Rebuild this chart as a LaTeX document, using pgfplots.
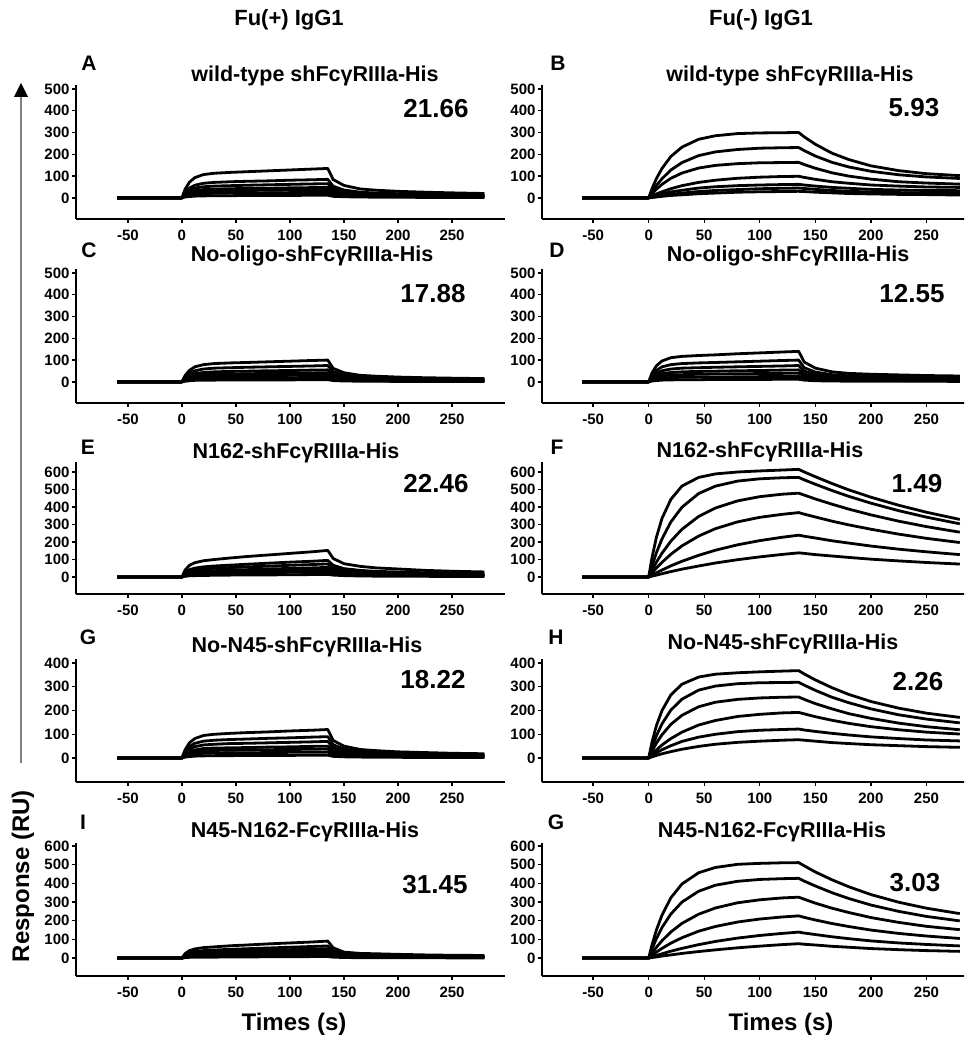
\documentclass[border=0pt]{standalone}
\usepackage{pgfplots}
\pgfplotsset{compat=1.18}
\usepackage{pgfplotstable}
\usepackage{fontspec}
\setmainfont{Liberation Sans}
\newcommand{\fs}[1]{\fontsize{#1}{#1}\selectfont\bfseries}

% Fu(+) IgG1 panels
\pgfplotstableread{
t c1 c2 c3 c4 c5 c6 c7
-60 0 0 0 0 0 0 0
0 0 0 0 0 0 0 0
3 40 25 19 14 11 7 4
7 72 45 34 25 20 13 6
12 93 58 45 33 26 17 8
20 107 67 51 38 30 20 9
30 113 71 54 40 32 21 10
45 117 74 56 42 33 22 10
60 120 76 58 43 34 22 11
80 124 78 60 44 35 23 11
100 128 81 62 46 36 24 11
120 132 83 64 47 37 24 12
135 135 85 65 48 38 25 12
140 84 53 40 30 24 16 7
150 57 36 27 20 16 11 5
165 41 26 20 14 11 8 4
180 35 22 17 12 10 7 3
200 30 19 14 11 8 6 3
225 26 16 12 9 7 5 2
250 23 14 11 8 6 4 2
280 20 13 10 7 6 4 2
}\dataA
\pgfplotstableread{
t c1 c2 c3 c4 c5 c6 c7
-60 0 0 0 0 0 0 0
0 0 0 0 0 0 0 0
3 29 22 16 12 9 6 3
7 53 40 29 22 17 11 5
12 69 51 38 29 22 14 7
20 79 59 43 33 25 16 8
30 84 63 46 35 27 17 8
45 87 65 48 36 28 17 9
60 89 67 49 37 28 18 9
80 92 69 51 39 29 18 9
100 95 71 52 40 30 19 9
120 98 73 54 41 31 20 10
135 100 75 55 42 32 20 10
140 62 47 34 26 20 12 6
150 42 32 23 18 13 8 4
165 30 23 17 13 10 6 3
180 26 20 14 11 8 5 3
200 22 17 12 9 7 4 2
225 19 14 10 8 6 4 2
250 17 13 9 7 5 3 2
280 15 11 8 6 5 3 2
}\dataC
\pgfplotstableread{
t c1 c2 c3 c4 c5 c6 c7
-60 0 0 0 0 0 0 0
0 0 0 0 0 0 0 0
3 40 25 20 14 11 8 4
7 67 42 33 24 18 13 7
12 82 51 41 30 23 16 8
20 93 58 46 34 26 18 9
30 100 63 50 36 28 20 10
45 109 68 54 40 30 22 11
60 117 73 58 42 32 23 12
80 126 79 62 46 35 25 12
100 135 85 67 49 37 27 13
120 144 90 71 52 40 29 14
135 152 95 75 55 42 30 15
140 106 67 53 39 29 21 11
150 76 48 38 28 21 15 8
165 61 38 30 22 17 12 6
180 52 32 26 19 14 10 5
200 46 29 23 17 13 9 5
225 38 24 19 14 11 8 4
250 33 21 17 12 9 7 3
280 29 18 14 10 8 6 3
}\dataE
\pgfplotstableread{
t c1 c2 c3 c4 c5 c6 c7
-60 0 0 0 0 0 0 0
0 0 0 0 0 0 0 0
3 35 26 21 15 11 7 4
7 64 48 37 27 20 13 6
12 82 62 48 34 26 17 8
20 95 71 55 40 30 20 9
30 100 75 58 42 32 21 10
45 104 78 61 43 33 22 10
60 107 80 62 44 34 22 11
80 110 83 64 46 35 23 11
100 114 85 66 47 36 24 11
120 117 88 68 49 37 24 12
135 120 90 70 50 38 25 12
140 74 56 43 31 24 16 7
150 50 38 29 21 16 11 5
165 36 27 21 15 11 8 4
180 31 23 18 13 10 7 3
200 26 20 15 11 8 6 3
225 23 17 13 10 7 5 2
250 20 15 12 9 6 4 2
280 18 14 11 8 6 4 2
}\dataG
\pgfplotstableread{
t c1 c2 c3 c4 c5 c6 c7
-60 0 0 0 0 0 0 0
0 0 0 0 0 0 0 0
3 24 17 13 10 7 5 2
7 40 29 22 17 12 8 4
12 49 35 27 21 15 10 4
20 56 40 31 23 17 11 5
30 60 43 33 25 18 12 5
45 66 47 36 27 20 13 6
60 70 50 39 29 22 14 6
80 76 54 42 32 23 15 7
100 81 58 45 34 25 16 7
120 86 62 48 36 27 17 8
135 91 65 50 38 28 18 8
140 55 39 30 23 17 11 5
150 32 23 18 13 10 6 3
165 25 18 14 11 8 5 2
180 23 16 13 10 7 5 2
200 20 14 11 8 6 4 2
225 17 12 10 7 5 3 2
250 15 11 9 6 5 3 1
280 14 10 8 6 4 3 1
}\dataI

% Fu(-) IgG1 panels
\pgfplotstableread{
t c1 c2 c3 c4 c5 c6 c7
-60 0 0 0 0 0 0 0
0 0 0 0 0 0 0 0
3 42 26 19 8 5 3 2
7 89 57 40 18 11 6 4
12 135 88 62 28 18 10 7
20 190 128 90 42 27 16 11
30 233 162 114 56 35 22 14
45 269 194 137 71 45 29 19
60 285 211 149 81 51 34 22
80 295 222 157 90 56 38 26
100 298 228 161 95 59 42 28
120 299 230 162 98 61 44 29
135 300 231 163 99 62 45 30
140 280 217 153 94 59 43 29
150 246 192 136 85 54 39 26
165 205 163 115 74 48 34 23
180 176 142 100 67 44 30 20
200 147 122 86 59 39 27 18
225 125 106 74 54 36 24 16
250 111 96 68 50 34 23 15
280 102 89 63 48 33 22 13
}\dataB
\pgfplotstableread{
t c1 c2 c3 c4 c5 c6 c7
-60 0 0 0 0 0 0 0
0 0 0 0 0 0 0 0
3 41 29 22 16 12 7 4
7 74 53 40 29 21 13 6
12 96 69 51 38 27 17 8
20 111 79 59 43 32 20 9
30 117 84 63 46 33 21 10
45 121 87 65 48 35 22 10
60 124 89 67 49 36 22 11
80 129 92 69 51 37 23 11
100 133 95 71 52 38 24 11
120 137 98 73 54 39 24 12
135 140 100 75 55 40 25 12
140 91 65 49 36 26 16 8
150 63 45 34 25 18 11 5
165 46 33 25 18 13 8 4
180 39 28 21 15 11 7 3
200 35 25 19 14 10 6 3
225 32 23 17 13 9 6 3
250 29 21 16 12 8 5 3
280 27 19 14 10 8 5 2
}\dataD
\pgfplotstableread{
t c1 c2 c3 c4 c5 c6
-60 0 0 0 0 0 0
0 0 0 0 0 0 0
3 111 65 38 23 11 5
7 228 139 85 52 24 11
12 335 218 136 84 40 19
20 444 315 205 130 64 31
30 520 399 273 178 90 45
45 569 477 346 234 124 63
60 589 519 394 276 153 80
80 600 548 435 315 184 99
100 606 561 459 341 208 115
120 611 567 473 358 227 129
135 615 569 479 368 239 138
140 600 555 468 359 233 135
150 573 530 446 343 223 128
165 534 494 416 319 207 120
180 498 461 388 298 194 112
200 456 422 355 273 177 102
225 410 379 319 245 159 92
250 370 342 288 221 144 83
280 329 304 256 197 128 74
}\dataF
\pgfplotstableread{
t c1 c2 c3 c4 c5 c6
-60 0 0 0 0 0 0
0 0 0 0 0 0 0
3 67 44 29 15 10 5
7 137 94 63 34 22 11
12 200 144 98 55 35 18
20 266 202 142 82 52 27
30 311 248 180 109 70 37
45 341 286 216 139 88 49
60 353 303 235 158 100 58
80 359 313 247 175 111 66
100 363 317 253 184 117 71
120 366 318 256 190 120 75
135 368 319 257 192 122 77
140 354 307 247 186 118 75
150 329 285 229 174 112 71
165 296 256 207 159 104 65
180 268 233 187 146 97 61
200 238 207 167 132 89 56
225 210 182 147 119 82 52
250 189 164 132 109 76 48
280 171 148 119 101 72 45
}\dataH
\pgfplotstableread{
t c1 c2 c3 c4 c5 c6
-60 0 0 0 0 0 0
0 0 0 0 0 0 0
3 71 49 26 14 6 3
7 151 105 58 32 14 6
12 230 164 93 52 23 11
20 323 236 140 80 37 17
30 397 300 186 109 52 25
45 457 358 235 144 72 35
60 485 390 268 169 89 44
80 502 411 296 193 107 55
100 507 421 312 209 121 64
120 510 425 322 220 132 72
135 511 427 326 226 139 77
140 494 412 315 218 134 74
150 461 386 294 204 126 70
165 419 350 267 185 114 63
180 382 319 244 169 104 58
200 340 284 217 150 92 51
225 299 250 191 132 81 45
250 267 223 170 118 73 40
280 238 199 152 105 65 36
}\dataJ

\pgfplotsset{
  panel/.style={scale only axis, anchor=south west,
    axis x line=bottom, axis y line=left,
    axis line style={-, line width=1.7pt},
    tick style={black, line width=1.4pt}, major tick length=4pt, tick align=outside,
    xtick={-50,0,50,100,150,200,250}, xticklabels={-50,0,50,100,150,200,250},
    ticklabel style={font=\fs{15}},
    xticklabel style={yshift=-3pt},
    yticklabel style={xshift=1pt},
    cycle list={{black}},
    every axis plot/.append style={line width=2.8pt, line join=round, no markers}},
  pleft/.style={panel, width=429pt, xmin=-98, xmax=299},
  pright/.style={panel, width=440pt, xmin=-96, xmax=300},
  r500/.style={height=134pt, ymin=-97, ymax=518, ytick={0,100,200,300,400,500},
    yticklabels={0,100,200,300,400,500}},
  r600/.style={height=132pt, ymin=-97, ymax=657, ytick={0,100,200,300,400,500,600},
    yticklabels={0,100,200,300,400,500,600}},
  r400/.style={height=123pt, ymin=-101, ymax=417, ytick={0,100,200,300,400},
    yticklabels={0,100,200,300,400}},
  r600b/.style={height=133pt, ymin=-96, ymax=616, ytick={0,100,200,300,400,500,600},
    yticklabels={0,100,200,300,400,500,600}},
}

\begin{document}
\begin{tikzpicture}[x=1pt,y=1pt]
\useasboundingbox (0,0) rectangle (964,-1040);
\clip (0,0) rectangle (964,-1040);

% left column
\begin{axis}[pleft, r500, at={(76pt,-219pt)}]
\pgfplotsinvokeforeach{1,...,7}{\addplot table[x=t,y=c#1]{\dataA};}
\end{axis}
\begin{axis}[pleft, r500, at={(76pt,-403pt)}]
\pgfplotsinvokeforeach{1,...,7}{\addplot table[x=t,y=c#1]{\dataC};}
\end{axis}
\begin{axis}[pleft, r600, at={(76pt,-594pt)}]
\pgfplotsinvokeforeach{1,...,7}{\addplot table[x=t,y=c#1]{\dataE};}
\end{axis}
\begin{axis}[pleft, r400, at={(76pt,-782pt)}]
\pgfplotsinvokeforeach{1,...,7}{\addplot table[x=t,y=c#1]{\dataG};}
\end{axis}
\begin{axis}[pleft, r600b, at={(76pt,-976pt)}]
\pgfplotsinvokeforeach{1,...,7}{\addplot table[x=t,y=c#1]{\dataI};}
\end{axis}

% right column
\begin{axis}[pright, r500, at={(542pt,-219pt)}]
\pgfplotsinvokeforeach{1,...,7}{\addplot table[x=t,y=c#1]{\dataB};}
\end{axis}
\begin{axis}[pright, r500, at={(542pt,-403pt)}]
\pgfplotsinvokeforeach{1,...,7}{\addplot table[x=t,y=c#1]{\dataD};}
\end{axis}
\begin{axis}[pright, r600, at={(542pt,-594pt)}]
\pgfplotsinvokeforeach{1,...,6}{\addplot table[x=t,y=c#1]{\dataF};}
\end{axis}
\begin{axis}[pright, r400, at={(542pt,-782pt)}]
\pgfplotsinvokeforeach{1,...,6}{\addplot table[x=t,y=c#1]{\dataH};}
\end{axis}
\begin{axis}[pright, r600b, at={(542pt,-976pt)}]
\pgfplotsinvokeforeach{1,...,6}{\addplot table[x=t,y=c#1]{\dataJ};}
\end{axis}

% column headers
\node[font=\fs{22}] at (289,-20) {Fu(+) IgG1};
\node[font=\fs{22}] at (761,-20) {Fu(-) IgG1};

% panel letters
\begin{scope}[every node/.style={font=\fs{21}}]
\node at (89,-63) {A};  \node at (558,-63) {B};
\node at (89,-250) {C}; \node at (557,-250) {D};
\node at (88,-447) {E}; \node at (557,-447) {F};
\node at (88,-637) {G}; \node at (556,-637) {H};
\node at (83,-822) {I}; \node at (556,-822) {G};
\end{scope}

% panel titles
\begin{scope}[every node/.style={font=\fs{21.5}, anchor=base}]
\node at (315,-82) {wild-type shFcγRIIIa-His};
\node at (790,-82) {wild-type shFcγRIIIa-His};
\node at (312,-262) {No-oligo-shFcγRIIIa-His};
\node at (788,-262) {No-oligo-shFcγRIIIa-His};
\node at (296,-458) {N162-shFcγRIIIa-His};
\node at (760,-457) {N162-shFcγRIIIa-His};
\node at (307,-652) {No-N45-shFcγRIIIa-His};
\node at (783,-649) {No-N45-shFcγRIIIa-His};
\node at (305,-837) {N45-N162-FcγRIIIa-His};
\node at (772,-837) {N45-N162-FcγRIIIa-His};
\end{scope}

% values
\begin{scope}[every node/.style={font=\fs{26}}]
\node at (436,-109) {21.66}; \node at (914,-108) {5.93};
\node at (433,-294) {17.88}; \node at (912,-294) {12.55};
\node at (436,-484) {22.46}; \node at (917,-484) {1.49};
\node at (433,-680) {18.22}; \node at (918,-682) {2.26};
\node at (435,-885) {31.45}; \node at (915,-883) {3.03};
\end{scope}

% axis titles
\node[font=\fs{24}] at (294,-1024) {Times (s)};
\node[font=\fs{24}] at (781,-1024) {Times (s)};
\node[font=\fs{24}, rotate=90] at (23,-876) {Response (RU)};
\draw[gray, line width=1.8pt] (21,-763) -- (21,-96);
\fill[black] (14,-97) -- (28,-97) -- (21,-83) -- cycle;
\end{tikzpicture}
\end{document}
